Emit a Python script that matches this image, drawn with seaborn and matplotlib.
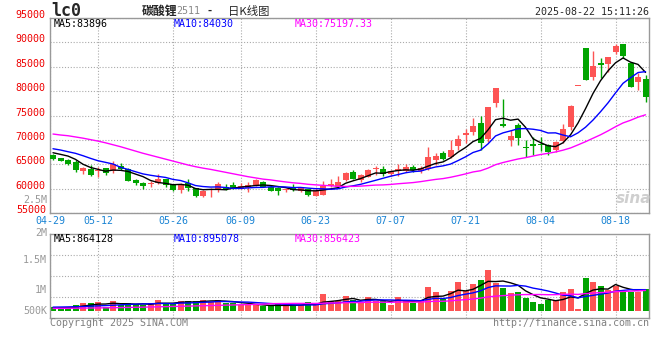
import numpy as np
import pandas as pd
import matplotlib
matplotlib.use("Agg")
import matplotlib.pyplot as plt
import seaborn as sns

# -----------------------------
# Daily K data, LC2511, 2025-04-29 .. 2025-08-22 (80 sessions)
# -----------------------------
opens = [66890, 66180, 65800, 65520, 63670, 63960, 63700, 64160, 63550, 64700,
         63960, 61770, 61210, 60980, 61090, 61910, 60940, 59710, 61090, 60060,
         58540, 59710, 59850, 60390, 60800, 59980, 60120, 60670, 61360, 60260,
         60120, 59650, 60120, 59440, 59850, 58540, 58750, 60460, 60390, 61770,
         63470, 61770, 62440, 64050, 64020, 62990, 63690, 63690, 64490, 63690,
         64020, 65860, 67370, 66410, 68740, 70930, 71680, 73390, 70110, 77490,
         73240, 69960, 73040, 68600, 69090, 69160, 68940, 67920, 69820, 72700,
         81040, 88890, 82950, 85690, 85470, 88070, 89650, 85830, 81920, 82470]
highs = [67100, 66300, 66100, 65800, 64500, 64780, 64430, 64300, 65660, 65310,
         64200, 61900, 61350, 61620, 63000, 62000, 61050, 61100, 61900, 60200,
         59700, 60100, 61300, 60900, 61420, 61100, 61420, 61900, 61500, 60800,
         60250, 60000, 60900, 60300, 60000, 60050, 61560, 61900, 62500, 63400,
         63800, 63000, 64100, 64700, 64600, 63800, 65000, 65000, 64900, 64600,
         68470, 67370, 67770, 69960, 70990, 72160, 74420, 74830, 76800, 80700,
         78370, 72020, 73530, 69960, 70520, 70660, 69100, 69800, 73330, 77100,
         81040, 88890, 88280, 86720, 87050, 89710, 89650, 85900, 83630, 83360]
lows = [65900, 65600, 64900, 63500, 62930, 62600, 62440, 62800, 63300, 63900,
        61500, 60700, 59980, 60390, 60900, 60400, 59600, 59100, 59510, 58300,
        58200, 58340, 59370, 59700, 60000, 59850, 59370, 60500, 60250, 59450,
        58750, 59350, 59450, 59300, 58500, 58400, 58600, 60300, 60200, 61600,
        61900, 61300, 62300, 62880, 62600, 62600, 62610, 63500, 63500, 63200,
        63800, 64840, 65860, 66200, 67920, 69410, 70980, 67920, 69630, 76800,
        72700, 68740, 68880, 66410, 66960, 67780, 66830, 67500, 69300, 72100,
        81040, 82270, 82270, 82620, 83970, 87570, 86700, 80900, 80220, 77670]
closes = [66070, 65720, 65100, 63810, 64290, 62790, 63780, 63200, 64980, 64020,
          61620, 61090, 60600, 61050, 61910, 60740, 59710, 60940, 60190, 58480,
          59570, 60020, 60940, 59850, 60120, 60600, 60800, 61830, 60390, 59570,
          59570, 59720, 59710, 60120, 58750, 59440, 60530, 60870, 61360, 63270,
          61970, 62790, 63810, 64220, 62990, 63610, 63960, 64490, 63810, 64290,
          66480, 66750, 66070, 67920, 70110, 71340, 72840, 69290, 76670, 80570,
          72840, 70790, 70440, 68260, 68800, 68880, 67580, 69550, 72230, 76940,
          81040, 82270, 85200, 85280, 87050, 89300, 87190, 80900, 82950, 78840]
volumes = [141000, 141000, 141000, 239000, 323000, 323000, 366000, 155000, 408000, 225000,
           323000, 267000, 225000, 309000, 450000, 323000, 281000, 408000, 408000, 408000,
           450000, 380000, 450000, 323000, 323000, 239000, 239000, 225000, 197000, 197000,
           267000, 225000, 253000, 239000, 366000, 239000, 703000, 408000, 408000, 626000,
           436000, 323000, 577000, 422000, 394000, 239000, 577000, 422000, 338000, 464000,
           999000, 788000, 492000, 844000, 1210000, 844000, 1125000, 1294000, 1716000, 1167000,
           956000, 745000, 788000, 534000, 366000, 281000, 464000, 464000, 788000, 914000,
           70000, 1378000, 1210000, 1041000, 858000, 1041000, 788000, 788000, 788000, 914000]

# moving averages at the left edge (window starts before 04-29)
ma5_head = [67360, 67030, 66680, 66000]
ma10_head = [68180, 67920, 67570, 67240, 66750, 66210, 65720, 65390, 65050]
ma30_head = [71200, 71000, 70850, 70600, 70350, 70050, 69750, 69400, 69000, 68600,
             68150, 67700, 67250, 66850, 66450, 66050, 65650, 65250, 64850, 64500,
             64200, 63950, 63650, 63350, 63050, 62750, 62450, 62200, 61950]
vma5_head = [113000, 120000, 130000, 150000]
vma10_head = [150000, 155000, 160000, 165000, 175000, 190000, 205000, 215000, 230000]
vma30_head = [98000, 100000, 103000, 106000, 110000, 114000, 118000, 122000, 127000, 132000,
              138000, 144000, 150000, 157000, 164000, 171000, 178000, 186000, 194000, 202000,
              210000, 218000, 226000, 234000, 242000, 250000, 258000, 266000, 275000]

tick_idx = [0, 6, 16, 25, 35, 45, 55, 65, 75]
tick_labels = ["04-29", "05-12", "05-26", "06-09", "06-23", "07-07", "07-21", "08-04", "08-18"]
price_ticks = [55000, 60000, 65000, 70000, 75000, 80000, 85000, 90000, 95000]

# -----------------------------
# Derived series
# -----------------------------
idx = np.arange(len(closes))
o, h, l, c = map(np.array, (opens, highs, lows, closes))
up = c >= o

def moving(values, n, head):
    s = pd.Series(values, dtype=float).rolling(n).mean()
    s.iloc[:len(head)] = head
    return s.values

ma5, ma10, ma30 = moving(closes, 5, ma5_head), moving(closes, 10, ma10_head), moving(closes, 30, ma30_head)
vma5, vma10, vma30 = moving(volumes, 5, vma5_head), moving(volumes, 10, vma10_head), moving(volumes, 30, vma30_head)

# -----------------------------
# Style
# -----------------------------
sns.set_theme(style="white")
plt.rcParams['font.family'] = ['DejaVu Sans Mono', 'Noto Sans CJK SC']

RED = '#fd5454'
GREEN = '#00a400'
GRID = '#aaaaaa'
FRAME = '#999999'
XBLUE = '#1a84d4'
FS = 7.2

W, H = 660, 360
fx = lambda px: px / W
fy = lambda py: 1 - py / H

fig = plt.figure(figsize=(6.6, 3.6), dpi=100)
ax = fig.add_axes([fx(50), fy(213), (649.3 - 50) / W, 195 / H])
ax2 = fig.add_axes([fx(50), fy(318), (649.3 - 50) / W, 84 / H])

x_left, x_right = -0.4, 79.5
tick_pos = list(tick_idx)
tick_pos[0] = x_left   # first date label sits on the left frame

# -----------------------------
# Price panel
# -----------------------------
cols = np.where(up, RED, GREEN)
ax.vlines(idx, l, h, colors=cols, linewidth=1, zorder=2)
body_lo = np.minimum(o, c)
body_h = np.maximum(np.abs(c - o), 180)
ax.bar(idx, body_h, bottom=body_lo, width=0.8, color=cols, linewidth=0, zorder=3)

sns.lineplot(x=idx, y=ma5, ax=ax, color='black', linewidth=1, zorder=4)
sns.lineplot(x=idx, y=ma10, ax=ax, color='#0000ff', linewidth=1, zorder=4)
sns.lineplot(x=idx, y=ma30, ax=ax, color='#ff00ff', linewidth=1, zorder=4)

ax.set_xlim(x_left, x_right)
ax.set_ylim(55000, 95000)
ax.set_yticks(price_ticks)
ax.set_yticklabels([str(v) for v in price_ticks], color='#ee0000', fontsize=FS)
for t in ax.get_yticklabels():
    t.set_verticalalignment('baseline')
ax.set_xticks(tick_pos)
ax.set_xticklabels(tick_labels, color=XBLUE, fontsize=FS)
ax.tick_params(axis='both', length=0)
ax.tick_params(axis='y', pad=3)
ax.tick_params(axis='x', pad=2)
ax.set_xlabel('')
ax.set_ylabel('')
ax.grid(True, color=GRID, linestyle=(0, (1, 1.6)), linewidth=0.8)
ax.set_axisbelow(True)
for sp in ax.spines.values():
    sp.set_color(FRAME)
    sp.set_linewidth(1)

# -----------------------------
# Volume panel
# -----------------------------
vol_df = pd.DataFrame({'i': idx, 'vol': volumes, 'dir': np.where(up, 'up', 'down')})
sns.barplot(data=vol_df, x='i', y='vol', hue='dir', palette={'up': RED, 'down': GREEN},
            native_scale=True, dodge=False, width=0.8, saturation=1, legend=False,
            errorbar=None, linewidth=0, ax=ax2)
sns.lineplot(x=idx, y=vma5, ax=ax2, color='black', linewidth=1)
sns.lineplot(x=idx, y=vma10, ax=ax2, color='#0000ff', linewidth=1)
sns.lineplot(x=idx, y=vma30, ax=ax2, color='#ff00ff', linewidth=1)

vmin, vmax = -308000, 3236000
ax2.set_xlim(x_left, x_right)
ax2.set_ylim(vmin, vmax)
ax2.set_yticks([vmin + q * (vmax - vmin) for q in (0.25, 0.5, 0.75)])
ax2.set_yticklabels([])
ax2.set_xticks(tick_pos)
ax2.set_xticklabels([])
ax2.tick_params(axis='y', length=0)
ax2.tick_params(axis='x', length=3, color=FRAME, direction='out')
ax2.set_xlabel('')
ax2.set_ylabel('')
ax2.grid(True, color=GRID, linestyle=(0, (1, 1.6)), linewidth=0.8)
ax2.set_axisbelow(True)
for sp in ax2.spines.values():
    sp.set_color(FRAME)
    sp.set_linewidth(1)

# volume axis labels (drawn where sina puts them)
for lab, py in [("2.5M", 200.3), ("2M", 232.5), ("1.5M", 260), ("1M", 290), ("500K", 310.5)]:
    fig.text(fx(47), fy(py), lab, ha='right', va='center', color='#999999', fontsize=FS)

# -----------------------------
# Header / legends / footer
# -----------------------------
fig.text(fx(51), fy(11), "lc0", fontsize=12, fontweight='bold', va='center', ha='left')
fig.text(fx(141.5), fy(11), "碳酸锂", family=['Noto Sans CJK SC'], fontweight='bold',
         fontsize=8.6, va='center', ha='left')
fig.text(fx(176.5), fy(11.5), "2511", color='#888888', fontsize=FS, va='center', ha='left')
fig.text(fx(206), fy(11), "-", fontsize=FS, fontweight='bold', va='center', ha='left')
fig.text(fx(228), fy(11), "日K线图", family=['Noto Sans CJK SC'], fontsize=8.2,
         va='center', ha='left')
fig.text(fx(649), fy(11.7), "2025-08-22 15:11:26", fontsize=FS, va='center', ha='right')

for txt, px, col in [("MA5:83896", 54, 'black'), ("MA10:84030", 174, '#0000ff'),
                     ("MA30:75197.33", 295, '#ff00ff')]:
    fig.text(fx(px), fy(24), txt, color=col, fontsize=FS, va='center', ha='left')
for txt, px, col in [("MA5:864128", 54, 'black'), ("MA10:895078", 174, '#0000ff'),
                     ("MA30:856423", 295, '#ff00ff')]:
    fig.text(fx(px), fy(239), txt, color=col, fontsize=FS, va='center', ha='left')

fig.text(fx(634), fy(198), "sina", color='#cfcfcf', fontsize=11, fontweight='bold',
         style='italic', family=['DejaVu Sans'], ha='center', va='center')

fig.text(fx(50), fy(323), "Copyright 2025 SINA.COM", color='#808080', fontsize=FS,
         va='center', ha='left')
fig.text(fx(649.3), fy(323), "http://finance.sina.com.cn", color='#808080', fontsize=FS,
         va='center', ha='right')

fig.savefig("out.png", dpi=100)
